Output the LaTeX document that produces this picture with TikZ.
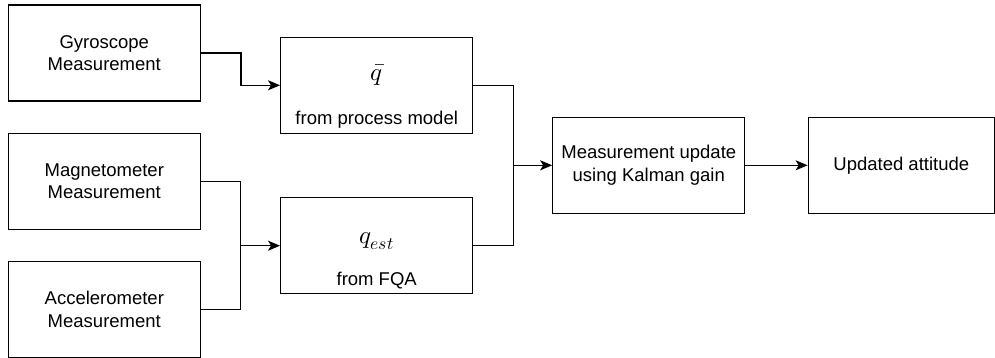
\documentclass[tikz,border=0pt]{standalone}
\usepackage{fontspec}
\setmainfont{Liberation Sans}
\usepackage{unicode-math}
\setmathfont{Latin Modern Math}
\usetikzlibrary{arrows.meta}
\begin{document}
\begin{tikzpicture}[x=1pt,y=-1pt,
  box/.style={draw, line width=1.3pt, minimum width=192pt, minimum height=96pt, inner sep=0pt, align=center, font=\fontsize{18.5}{22.5}\selectfont},
  lbl/.style={inner sep=0pt, font=\fontsize{18.5}{22.5}\selectfont, anchor=base},
  mth/.style={inner sep=0pt, font=\fontsize{25}{30}\selectfont, anchor=base},
  wire/.style={line width=1.3pt},
  arr/.style={wire, -{Stealth[length=12pt, width=10pt, inset=3pt]}}
]
\useasboundingbox (0,0) rectangle (995,358);
\fill[white] (0,0) rectangle (995,358);

\node[box] (gyro) at (104.3,53) {Gyroscope\\Measurement};
\node[box] (mag)  at (104.3,181.3) {Magnetometer\\Measurement};
\node[box] (acc)  at (104.3,309.3) {Accelerometer\\Measurement};

\node[box] (qbar) at (376.7,85.3) {\phantom{x}};
\node[mth] (qbart) at (376.7,81) {$\bar{q}$};
\node[lbl] (qbarl) at (376.7,124.5) {from process model};

\node[box] (qest) at (376.7,245.7) {\phantom{x}};
\node[mth] (qestt) at (376.7,243) {$q_{est}$};
\node[lbl] (qestl) at (376.7,285) {from FQA};

\node[box] (meas) at (648.8,165.3) {Measurement update\\using Kalman gain};
\node[box, minimum width=186pt] (upd) at (901.3,165.3) {Updated attitude};

\coordinate (j1) at (240.7,245.7);
\coordinate (j2) at (513.3,165.3);

\draw[arr] (gyro.east) -- ++(40,0) |- (qbar.west);
\draw[wire] (mag.east) -| (j1);
\draw[wire] (acc.east) -| (j1);
\draw[arr] (j1) -- (qest.west);
\draw[wire] (qbar.east) -| (j2);
\draw[wire] (qest.east) -| (j2);
\draw[arr] (j2) -- (meas.west);
\draw[arr] (meas.east) -- (upd.west);
\end{tikzpicture}
\end{document}
